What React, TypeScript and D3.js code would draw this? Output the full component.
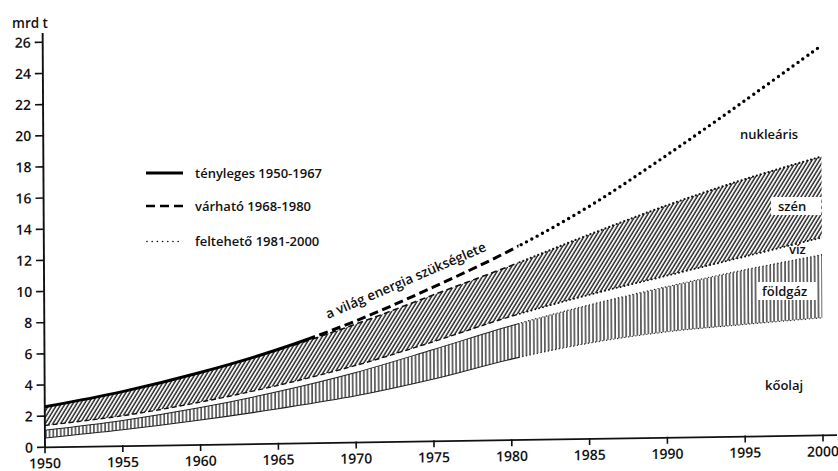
import React from "react";
import * as d3 from "d3";

// ---- data ----
const years = [1950, 1955, 1960, 1965, 1970, 1975, 1980, 1985, 1990, 1995, 2000];
// world energy demand (mrd t) = upper edge of "nukleáris"
const totalNeed = [2.6, 3.5, 4.65, 6.05, 7.8, 9.9, 12.2, 14.9, 18.1, 21.5, 25.0];
// upper / lower edge of "szén" band
const coalTop = [2.6, 3.5, 4.65, 6.0, 7.6, 9.4, 11.2, 13.1, 14.9, 16.5, 17.9];
const coalBottom = [1.4, 1.95, 2.75, 3.75, 4.95, 6.4, 7.95, 9.25, 10.4, 11.55, 12.7];
// upper / lower edge of "földgáz" band (lower edge = top of "kőolaj")
const gasTop = [1.1, 1.65, 2.4, 3.35, 4.5, 5.9, 7.35, 8.6, 9.7, 10.7, 11.6];
const oilTop = [0.6, 1.05, 1.6, 2.25, 3.0, 4.0, 5.2, 6.15, 6.8, 7.2, 7.55];

const yTicks = [0, 2, 4, 6, 8, 10, 12, 14, 16, 18, 20, 22, 24, 26];
const xTicks = [1950, 1955, 1960, 1965, 1970, 1975, 1980, 1985, 1990, 1995, 2000];
const yUnit = "mrd t";
const periodLabels = ["tényleges 1950-1967", "várható 1968-1980", "feltehető 1981-2000"];
const periodBreaks = [1950, 1967, 1980.5, 2000];
const curveTitle = "a világ energia szükséglete";
const sourceNames = ["nukleáris", "szén", "víz", "földgáz", "kőolaj"];

const W = 838;
const H = 471;
const FONT = "'Open Sans', 'DejaVu Sans', sans-serif";

export default function App() {
  const x = d3.scaleLinear().domain([1950, 2000]).range([0, 778]);
  const y = d3.scaleLinear().domain([0, 26]).range([0, -405]);
  const curve = d3.curveCatmullRom.alpha(0.5);

  const line = (vals: number[]) =>
    d3
      .line<number>()
      .x((_, i) => x(years[i]))
      .y((v) => y(v))
      .curve(curve)(vals) as string;

  const area = (lo: number[], hi: number[]) =>
    d3
      .area<number>()
      .x((_, i) => x(years[i]))
      .y0((_, i) => y(lo[i]))
      .y1((_, i) => y(hi[i]))
      .curve(curve)(years) as string;

  const clip = (id: string, a: number, b: number) => (
    <clipPath id={id} key={id}>
      <rect x={x(a)} y={-480} width={x(b) - x(a)} height={560} />
    </clipPath>
  );

  const tiltMatrix = "matrix(1,-0.0153,0.0057,1,45,447.3)";

  return (
    <svg
      width={W}
      height={H}
      viewBox={`0 0 ${W} ${H}`}
      style={{ position: "absolute", left: 0, top: 0, background: "#fff" }}
      fontFamily={FONT}
    >
      <defs>
        <pattern id="hatch" width="3.3" height="10" patternUnits="userSpaceOnUse" patternTransform="rotate(32)">
          <line x1="1" y1="0" x2="1" y2="10" stroke="#1e1e1e" strokeWidth="1.45" />
        </pattern>
        <pattern id="stripes" width="7.4" height="10" patternUnits="userSpaceOnUse">
          <line x1="1" y1="0" x2="1" y2="10" stroke="#1a1a1a" strokeWidth="1.25" />
          <line x1="4.6" y1="0" x2="4.6" y2="10" stroke="#1a1a1a" strokeWidth="1.25" />
        </pattern>
        {clip("p1", periodBreaks[0], periodBreaks[1])}
        {clip("p2", periodBreaks[1], periodBreaks[2])}
        {clip("p3", periodBreaks[2], periodBreaks[3])}
        {clip("p2c", 1966, periodBreaks[2])}
        {clip("p12", periodBreaks[0], periodBreaks[2])}
      </defs>
      <rect x={0} y={0} width={W} height={H} fill="#fff" />

      <g transform={tiltMatrix}>
        {/* bands */}
        <path d={area(coalBottom, coalTop)} fill="url(#hatch)" />
        <path d={area(oilTop, gasTop)} fill="url(#stripes)" />

        {/* band edges */}
        <path d={line(coalTop)} fill="none" stroke="#111" strokeWidth={1.6} strokeDasharray="6 3.5" clipPath="url(#p2c)" />
        <path d={line(coalTop)} fill="none" stroke="#111" strokeWidth={2.2} strokeDasharray="0 4" strokeLinecap="round" clipPath="url(#p3)" />
        <path d={line(coalBottom)} fill="none" stroke="#111" strokeWidth={1.4} strokeDasharray="5 3" clipPath="url(#p12)" />
        <path d={line(coalBottom)} fill="none" stroke="#111" strokeWidth={2} strokeDasharray="0 4" strokeLinecap="round" clipPath="url(#p3)" />
        <path d={line(gasTop)} fill="none" stroke="#222" strokeWidth={1} clipPath="url(#p12)" />
        <path d={line(gasTop)} fill="none" stroke="#222" strokeWidth={1.4} strokeDasharray="0 3.7" strokeLinecap="round" clipPath="url(#p3)" />
        <path d={line(oilTop)} fill="none" stroke="#222" strokeWidth={1.1} clipPath="url(#p12)" />
        <path d={line(oilTop)} fill="none" stroke="#222" strokeWidth={1.4} strokeDasharray="0 3.7" strokeLinecap="round" clipPath="url(#p3)" />

        {/* total demand curve */}
        <path d={line(totalNeed)} fill="none" stroke="#000" strokeWidth={3} clipPath="url(#p1)" />
        <path d={line(totalNeed)} fill="none" stroke="#000" strokeWidth={3} strokeDasharray="9 4.5" clipPath="url(#p2)" />
        <path d={line(totalNeed)} fill="none" stroke="#000" strokeWidth={3.4} strokeDasharray="0 6" strokeLinecap="round" clipPath="url(#p3)" />

        {/* axes */}
        <line x1={0} y1={0} x2={792} y2={0} stroke="#111" strokeWidth={1.8} />
        <line x1={0} y1={0} x2={0} y2={y(26.6)} stroke="#111" strokeWidth={1.9} />
        {yTicks.map((t) => (
          <g key={"y" + t}>
            <line x1={-8} x2={0} y1={y(t)} y2={y(t)} stroke="#111" strokeWidth={1.6} />
            <text x={-12} y={y(t)} dy="0.36em" textAnchor="end" fontSize={14} fontWeight={600} fill="#111">
              {t}
            </text>
          </g>
        ))}
        {xTicks.map((t) => (
          <g key={"x" + t}>
            <line x1={x(t)} x2={x(t)} y1={-1} y2={6} stroke="#111" strokeWidth={1.6} />
            <text x={x(t)} y={21} textAnchor="middle" fontSize={14} fontWeight={600} fill="#111">
              {t}
            </text>
          </g>
        ))}
      </g>

      {/* unit */}
      <text x={12} y={28} fontSize={13.5} fontWeight={600} fill="#111">
        {yUnit}
      </text>

      {/* legend */}
      <line x1={146} x2={183} y1={173} y2={173} stroke="#000" strokeWidth={2.8} />
      <line x1={146} x2={183} y1={206} y2={206} stroke="#000" strokeWidth={2.4} strokeDasharray="9 5" />
      <line x1={147} x2={183} y1={241.5} y2={241.5} stroke="#000" strokeWidth={1.6} strokeDasharray="0 5.2" strokeLinecap="round" />
      {periodLabels.map((l, i) => (
        <text key={l} x={195} y={[177.5, 211, 245.5][i]} fontSize={13} fontWeight={600} fill="#111">
          {l}
        </text>
      ))}

      {/* curve title */}
      <text transform="translate(328,319) rotate(-23.3)" fontSize={13.5} fontWeight={600} fill="#111">
        {curveTitle}
      </text>

      {/* source labels */}
      <rect x={771} y={197} width={50} height={18} fill="#fff" />
      <rect x={758} y={282} width={58} height={18} fill="#fff" />
      <text x={740} y={139} fontSize={13} fontWeight={600} fill="#111">{sourceNames[0]}</text>
      <text x={778} y={211} fontSize={13} fontWeight={600} fill="#111">{sourceNames[1]}</text>
      <text x={789} y={254} fontSize={13} fontWeight={600} fill="#111">{sourceNames[2]}</text>
      <text x={762} y={296} fontSize={13} fontWeight={600} fill="#111">{sourceNames[3]}</text>
      <text x={765} y={390} fontSize={13} fontWeight={600} fill="#111">{sourceNames[4]}</text>
    </svg>
  );
}
